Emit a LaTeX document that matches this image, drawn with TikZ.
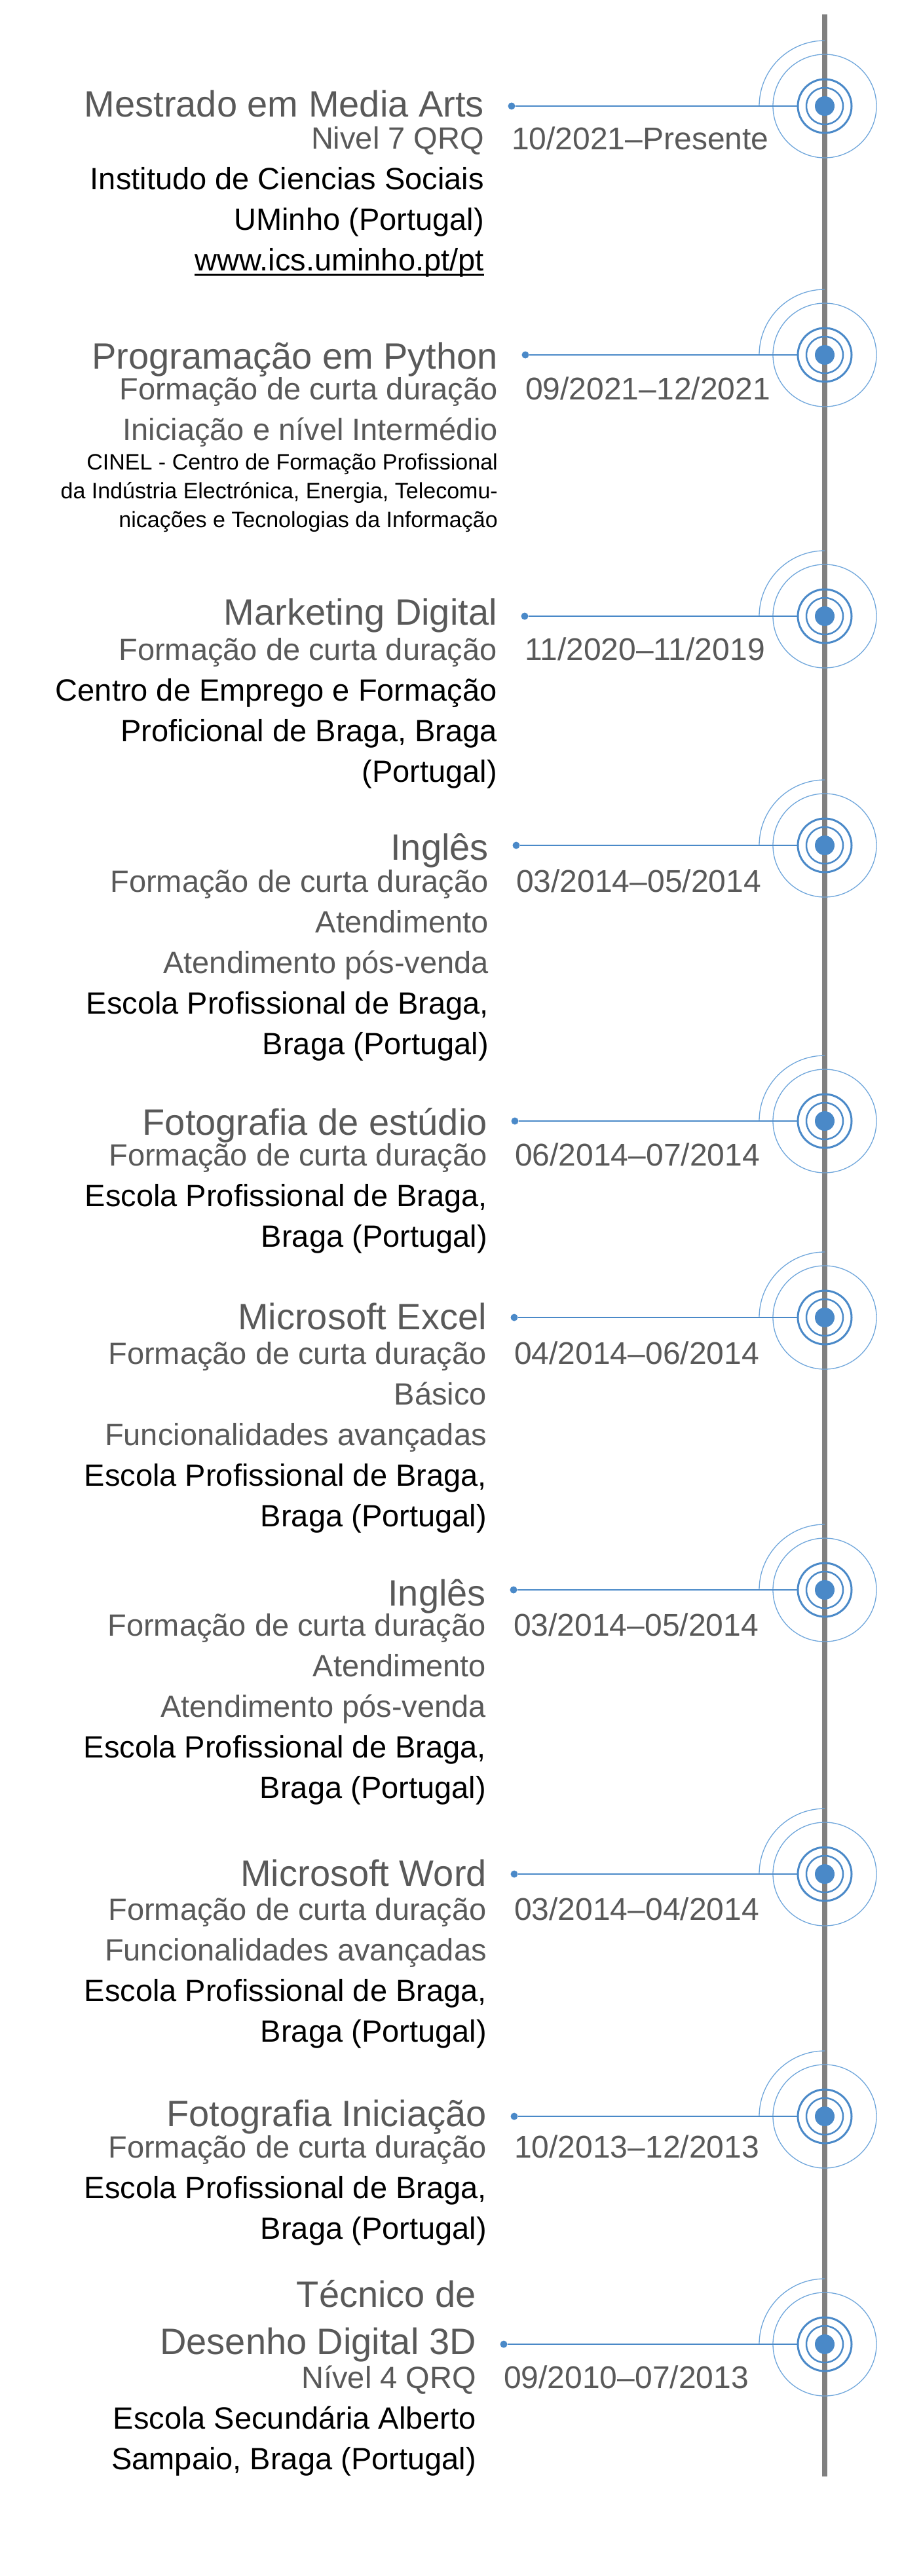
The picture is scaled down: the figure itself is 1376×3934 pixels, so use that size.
\documentclass[tikz,border=0pt]{standalone}
\usepackage{fontspec}
\setmainfont{Liberation Sans}
\definecolor{tlblue}{HTML}{4A89C8}
\definecolor{tlpale}{HTML}{6FA6DB}
\definecolor{tlgray}{HTML}{595959}
\definecolor{tlline}{HTML}{808080}
\newcommand{\faded}[1]{\textcolor{tlgray}{#1}}
\newcommand{\weblink}[1]{\setbox0\hbox{#1}\rlap{\rule[-7.5pt]{\wd0}{3pt}}\box0}

\begin{document}
\begin{tikzpicture}[x=1pt, y=-1pt,
    title/.style={anchor=base east, inner sep=0pt, text=tlgray, align=right, font=\fontsize{56}{72}\selectfont},
    body/.style={anchor=base east, inner sep=0pt, text=black, align=right, font=\fontsize{47}{62}\selectfont},
    small/.style={anchor=base east, inner sep=0pt, text=black, align=right, font=\fontsize{34}{44}\selectfont},
    date/.style={anchor=base west, inner sep=0pt, text=tlgray, font=\fontsize{48}{58}\selectfont},
    ring/.style={circle, draw=tlblue, line width=3pt, minimum size=82pt, inner sep=0pt},
    hub/.style={circle, fill=tlblue, minimum size=30pt, inner sep=0pt},
    tip/.style={circle, fill=tlblue, minimum size=11pt, inner sep=0pt}]
    \useasboundingbox (0,0) rectangle (1376,3934);

    % time axis
    \coordinate (top) at (1259,22);
    \coordinate (bottom) at (1259,3782);
    \draw[tlline, line width=8pt] (top) -- (bottom);

    % markers
    \foreach \y/\x [count=\i] in {162/781, 542/802, 941/801, 1291/788, 1712/786,
        2012/785, 2428/784, 2862/785, 3232/785, 3580/769} {
      \node[ring] (ring\i) at (1259,\y) {};
      \node[hub] (hub\i) at (ring\i) {};
      \draw[tlblue, line width=2.5pt] (ring\i.center) circle (28pt);
      \draw[tlpale, line width=1.3pt] (ring\i.center) circle (79pt);
      \draw[tlpale, line width=1.3pt] (ring\i.center) ++(0pt,100pt)
        arc[start angle=90, end angle=180, radius=100pt];
      \node[tip] (tip\i) at (\x,\y) {};
      \draw[tlblue, line width=2.5pt] (tip\i) -- (ring\i);
    }

    % entries (multi-line nodes sit on the baseline of their last line)
    \node[title] (mestrado) at (739,179) {Mestrado em Media Arts};
    \node[body] (mestradoinfo) at (739,413) {\faded{Nivel 7 QRQ}\\Institudo de Ciencias Sociais\\UMinho (Portugal)\\\weblink{www.ics.uminho.pt/pt}};
    \node[date] (mestradodate) at (781,229) {10/2021–Presente};

    \node[title] (python) at (760,563) {Programação em Python};
    \node[body, text=tlgray] (pythoninfo) at (760,672) {Formação de curta duração\\Iniciação e nível Intermédio};
    \node[small] (pythonschool) at (760,805) {CINEL - Centro de Formação Profissional\\da Indústria Electrónica, Energia, Telecomu-\\nicações e Tecnologias da Informação};
    \node[date] (pythondate) at (802,610) {09/2021–12/2021};

    \node[title] (marketing) at (759,954) {Marketing Digital};
    \node[body] (marketinginfo) at (759,1194) {\faded{Formação de curta duração}\\Centro de Emprego e Formação\\Proficional de Braga, Braga\\(Portugal)};
    \node[date] (marketingdate) at (801,1008) {11/2020–11/2019};

    \node[title] (ingles) at (746,1313) {Inglês};
    \node[body] (inglesinfo) at (746,1610) {\faded{Formação de curta duração}\\\faded{Atendimento}\\\faded{Atendimento pós-venda}\\Escola Profissional de Braga,\\Braga (Portugal)};
    \node[date] (inglesdate) at (788,1362) {03/2014–05/2014};

    \node[title] (estudio) at (744,1733) {Fotografia de estúdio};
    \node[body] (estudioinfo) at (744,1904) {\faded{Formação de curta duração}\\Escola Profissional de Braga,\\Braga (Portugal)};
    \node[date] (estudiodate) at (786,1780) {06/2014–07/2014};

    \node[title] (excel) at (743,2030) {Microsoft Excel};
    \node[body] (excelinfo) at (743,2331) {\faded{Formação de curta duração}\\\faded{Básico}\\\faded{Funcionalidades avançadas}\\Escola Profissional de Braga,\\Braga (Portugal)};
    \node[date] (exceldate) at (785,2083) {04/2014–06/2014};

    \node[title] (inglesb) at (742,2452) {Inglês};
    \node[body] (inglesbinfo) at (742,2746) {\faded{Formação de curta duração}\\\faded{Atendimento}\\\faded{Atendimento pós-venda}\\Escola Profissional de Braga,\\Braga (Portugal)};
    \node[date] (inglesbdate) at (784,2498) {03/2014–05/2014};

    \node[title] (word) at (743,2880) {Microsoft Word};
    \node[body] (wordinfo) at (743,3118) {\faded{Formação de curta duração}\\\faded{Funcionalidades avançadas}\\Escola Profissional de Braga,\\Braga (Portugal)};
    \node[date] (worddate) at (785,2932) {03/2014–04/2014};

    \node[title] (iniciacao) at (743,3247) {Fotografia Iniciação};
    \node[body] (iniciacaoinfo) at (743,3419) {\faded{Formação de curta duração}\\Escola Profissional de Braga,\\Braga (Portugal)};
    \node[date] (iniciacaodate) at (785,3295) {10/2013–12/2013};

    \node[title] (desenho) at (727,3595) {Técnico de\\Desenho Digital 3D};
    \node[body] (desenhoinfo) at (727,3771) {\faded{Nível 4 QRQ}\\Escola Secundária Alberto\\Sampaio, Braga (Portugal)};
    \node[date] (desenhodate) at (769,3647) {09/2010–07/2013};
\end{tikzpicture}
\end{document}
